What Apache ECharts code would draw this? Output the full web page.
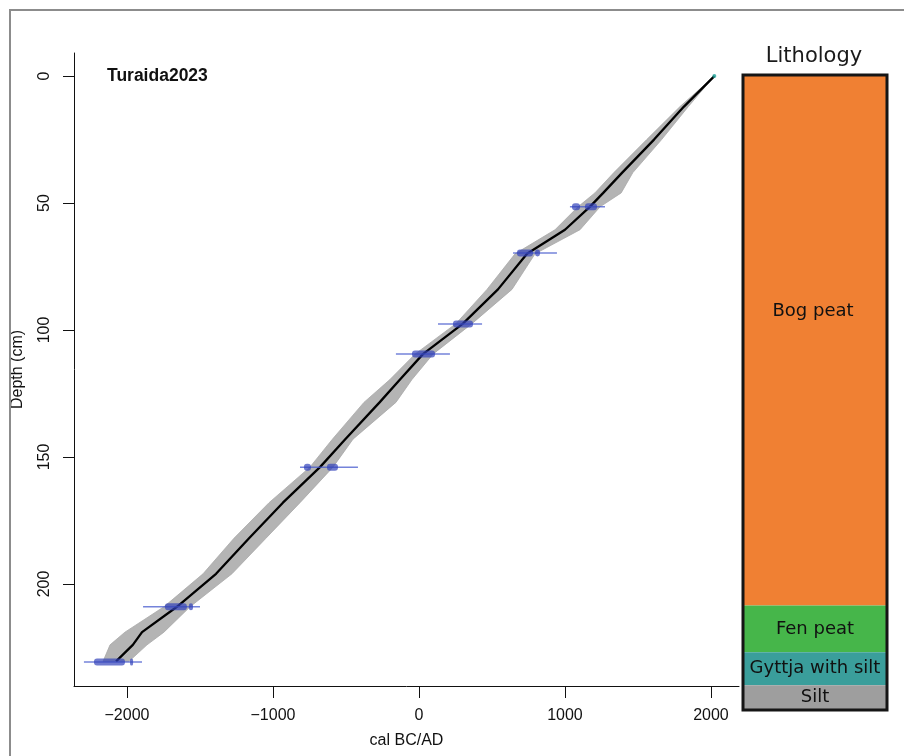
<!DOCTYPE html>
<html>
<head>
<meta charset="utf-8">
<script src="https://cdn.jsdelivr.net/npm/echarts@6/dist/echarts.min.js"></script>
<style>
  html, body { margin: 0; padding: 0; background: #fff; }
  #chart { width: 904px; height: 756px; }
</style>
</head>
<body>
<div id="chart"></div>
<script>
// age-depth model
const depths    = [0, 12, 25, 38, 46, 51.5, 60.5, 70, 84, 97.5, 109.5, 119.5, 128.5, 143, 154, 168, 182, 196, 209, 219, 224, 230.5]
const ageMedian = [2023, 1815, 1610, 1392, 1262, 1170, 1000, 740, 541, 301, 27, -130, -270, -505, -678, -932, -1164, -1390, -1658, -1897, -1960, -2075]
const ageMin    = [2023, 1788, 1560, 1335, 1205, 1089, 932, 658, 466, 253, -27, -199, -377, -593, -747, -1027, -1267, -1479, -1747, -2014, -2116, -2164]
const ageMax    = [2023, 1845, 1662, 1465, 1385, 1240, 1103, 795, 637, 363, 96, -48, -158, -452, -589, -815, -1048, -1281, -1568, -1747, -1863, -1986]

// calibrated dates: full range + dense parts
const dateDepths = [51.5, 69.7, 97.6, 109.4, 154, 209, 230.7]
const dateFrom   = [1034, 644, 130, -158, -815, -1890, -2295]
const dateTo     = [1274, 945, 432, 212, -418, -1500, -1897]
const blobDepth  = [51.5, 51.5, 69.7, 69.7, 97.6, 109.4, 154, 154, 209, 209, 230.7, 230.7]
const blobFrom   = [1048, 1137, 671, 795, 233, -48, -788, -630, -1740, -1576, -2226, -1979]
const blobTo     = [1103, 1219, 781, 829, 370, 110, -740, -555, -1590, -1548, -2014, -1965]

const surfaceAge = 2023
const surfaceDepth = 0

const xTicks = [-2000, -1000, 0, 1000, 2000]
const xTickLabels = ['\u22122000', '\u22121000', '0', '1000', '2000']
const yTicks = [0, 50, 100, 150, 200]

// lithology column, top to bottom (cm)
const lithoNames = ['Bog peat', 'Fen peat', 'Gyttja with silt', 'Silt']
const lithoThickness = [193, 17, 12, 9]
const lithoColors = ['#f08033', '#46b64a', '#3a9e9b', '#9e9e9e']

const chart = echarts.init(document.getElementById('chart'))

const axisFont = { fontFamily: 'Liberation Sans', fontSize: 16, color: '#111' }

const bandData = depths.map((d, i) => [ageMin[i], ageMax[i], d])

const lithoSeries = lithoNames.map((name, i) => ({
  name: name,
  type: 'bar',
  xAxisIndex: 1,
  yAxisIndex: 1,
  stack: 'litho',
  barWidth: '100%',
  itemStyle: { color: lithoColors[i] },
  label: {
    show: true,
    position: 'inside',
    offset: i === 0 ? [-2, -29] : [0, 0],
    formatter: name,
    fontFamily: 'DejaVu Sans',
    fontSize: 18,
    color: '#111'
  },
  data: [lithoThickness[i]],
  z: 2
}))

const option = {
  animation: false,
  backgroundColor: '#fff',
  grid: [
    { left: 74, top: 53, width: 665, height: 633 },
    { left: 743, top: 75, width: 144, height: 635 }
  ],
  xAxis: [
    {
      type: 'value',
      gridIndex: 0,
      min: -2363,
      max: 2192,
      splitLine: { show: false },
      axisLine: { onZero: false, lineStyle: { color: '#111', width: 1 } },
      axisTick: { customValues: xTicks, length: 12, lineStyle: { color: '#111' } },
      axisLabel: {
        customValues: xTicks,
        margin: 22,
        formatter: (v) => xTickLabels[xTicks.indexOf(v)],
        ...axisFont
      },
      name: 'cal BC/AD',
      nameLocation: 'middle',
      nameGap: 47,
      nameTextStyle: axisFont
    },
    {
      type: 'category',
      gridIndex: 1,
      data: ['core'],
      show: false
    }
  ],
  yAxis: [
    {
      type: 'value',
      gridIndex: 0,
      inverse: true,
      min: -9.1,
      max: 240.2,
      splitLine: { show: false },
      axisLine: { onZero: false, lineStyle: { color: '#111', width: 1 } },
      axisTick: { customValues: yTicks, length: 11, lineStyle: { color: '#111' } },
      axisLabel: {
        customValues: yTicks,
        rotate: 90,
        margin: 21,
        ...axisFont
      },
      name: 'Depth (cm)',
      nameLocation: 'middle',
      nameGap: 48,
      nameTextStyle: axisFont
    },
    {
      type: 'value',
      gridIndex: 1,
      inverse: true,
      min: 0,
      max: lithoThickness.reduce((a, b) => a + b, 0),
      show: false
    }
  ],
  graphic: [
    {
      type: 'rect',
      shape: { x: 10, y: 10, width: 1000, height: 1000 },
      style: { fill: 'none', stroke: '#8c8c8c', lineWidth: 2 },
      z: 100
    },
    {
      type: 'rect',
      shape: { x: 743, y: 75, width: 144, height: 635 },
      style: { fill: 'none', stroke: '#151515', lineWidth: 3 },
      z: 100
    },
    {
      type: 'text',
      x: 107,
      y: 76,
      style: {
        text: 'Turaida2023',
        fontFamily: 'Liberation Sans',
        fontWeight: 'bold',
        fontSize: 17.5,
        fill: '#111',
        verticalAlign: 'middle'
      },
      z: 100
    },
    {
      type: 'text',
      x: 814,
      y: 57,
      style: {
        text: 'Lithology',
        fontFamily: 'DejaVu Sans',
        fontSize: 21,
        fill: '#1a1a1a',
        align: 'center',
        verticalAlign: 'middle'
      },
      z: 100
    }
  ],
  series: [
    {
      // 95% range band
      type: 'custom',
      xAxisIndex: 0,
      yAxisIndex: 0,
      data: bandData,
      encode: { x: [0, 1], y: 2 },
      renderItem: (params, api) => {
        if (params.dataIndex !== 0) return null
        const left = bandData.map((r) => api.coord([r[0], r[2]]))
        const right = bandData.map((r) => api.coord([r[1], r[2]])).reverse()
        return {
          type: 'polygon',
          shape: { points: left.concat(right) },
          style: { fill: '#b4b4b4', stroke: '#a8a8a8', lineWidth: 0.8 }
        }
      },
      z: 1
    },
    {
      type: 'line',
      xAxisIndex: 0,
      yAxisIndex: 0,
      data: depths.map((d, i) => [ageMedian[i], d]),
      showSymbol: false,
      lineStyle: { color: '#000', width: 2.3 },
      z: 3
    },
    {
      // full range of each calibrated date
      type: 'custom',
      xAxisIndex: 0,
      yAxisIndex: 0,
      data: dateDepths.map((d, i) => [dateFrom[i], dateTo[i], d]),
      encode: { x: [0, 1], y: 2 },
      renderItem: (params, api) => {
        const a = api.coord([api.value(0), api.value(2)])
        const b = api.coord([api.value(1), api.value(2)])
        return {
          type: 'line',
          shape: { x1: a[0], y1: a[1], x2: b[0], y2: b[1] },
          style: { stroke: 'rgba(70,90,205,0.75)', lineWidth: 1.5 }
        }
      },
      z: 4
    },
    {
      // dense parts of the date distributions
      type: 'custom',
      xAxisIndex: 0,
      yAxisIndex: 0,
      data: blobDepth.map((d, i) => [blobFrom[i], blobTo[i], d]),
      encode: { x: [0, 1], y: 2 },
      renderItem: (params, api) => {
        const a = api.coord([api.value(0), api.value(2)])
        const b = api.coord([api.value(1), api.value(2)])
        return {
          type: 'rect',
          shape: { x: a[0], y: a[1] - 3.5, width: Math.max(b[0] - a[0], 3), height: 7, r: 3 },
          style: { fill: 'rgba(50,65,185,0.7)' }
        }
      },
      z: 5
    },
    {
      type: 'scatter',
      xAxisIndex: 0,
      yAxisIndex: 0,
      data: [[surfaceAge, surfaceDepth]],
      symbolSize: 4,
      itemStyle: { color: '#1fa39a' },
      z: 6
    },
    ...lithoSeries
  ]
}

chart.setOption(option)
</script>
</body>
</html>
